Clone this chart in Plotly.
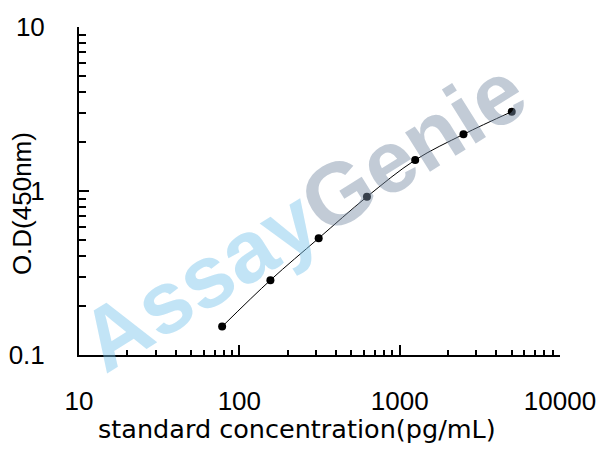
import plotly.graph_objects as go

# standard curve data
concentration = [78.125, 156.25, 312.5, 625, 1250, 2500, 5000]
od_450 = [0.149, 0.286, 0.515, 0.922, 1.545, 2.216, 3.046]

x_tick_vals = [10, 100, 1000, 10000]
x_tick_text = ["10", "100", "1000", "10000"]
y_tick_vals = [0.1, 1, 10]
y_tick_text = ["0.1", "1", "10"]

x_minor = [m * 10 ** e for e in range(1, 4) for m in range(2, 10)]
y_minor = [m * 10 ** e for e in range(-1, 1) for m in range(2, 10)]

fig = go.Figure()

fig.add_trace(
    go.Scatter(
        x=concentration,
        y=od_450,
        mode="lines+markers",
        line=dict(color="black", width=1, shape="spline", smoothing=1.0),
        marker=dict(color="black", size=8),
        showlegend=False,
    )
)

axis_common = dict(
    showgrid=False,
    zeroline=False,
    showline=True,
    linecolor="black",
    linewidth=2,
    ticks="inside",
    ticklen=10,
    tickwidth=1.5,
    tickcolor="black",
    tickfont=dict(family="Arial, Liberation Sans", size=26, color="black"),
    mirror=False,
    automargin=False,
)

fig.update_xaxes(
    type="log",
    range=[1, 4],
    tickmode="array",
    tickvals=x_tick_vals,
    ticktext=x_tick_text,
    ticklabelstandoff=22,
    minor=dict(tickmode="array", tickvals=x_minor, ticks="inside",
               ticklen=5, tickwidth=1.5, tickcolor="black", showgrid=False),
    **axis_common,
)
fig.update_yaxes(
    type="log",
    range=[-1, 1],
    tickmode="array",
    tickvals=y_tick_vals,
    ticktext=y_tick_text,
    ticklabelstandoff=27,
    minor=dict(tickmode="array", tickvals=y_minor, ticks="inside",
               ticklen=7, tickwidth=1.5, tickcolor="black", showgrid=False),
    **axis_common,
)

# page body has an 8px margin, so the figure is sized to fit inside the window
fig.update_layout(
    width=600,
    height=445,
    margin=dict(l=71, r=48, t=19, b=98),
    paper_bgcolor="white",
    plot_bgcolor="white",
    annotations=[
        # watermark
        dict(
            text="<b><span style='color:rgba(120,195,235,0.45)'>Assay</span>"
                 "<span style='color:rgba(120,140,165,0.45)'>Genie</span></b>",
            x=0.465, y=0.425, xref="paper", yref="paper",
            xanchor="center", yanchor="middle",
            showarrow=False, textangle=-32,
            font=dict(family="Arial, Liberation Sans", size=88),
        ),
        dict(
            text="standard concentration(pg/mL)",
            x=0.453, y=-0.225, xref="paper", yref="paper",
            xanchor="center", yanchor="middle",
            showarrow=False,
            font=dict(family="DejaVu Sans", size=25.5, color="black"),
        ),
        dict(
            text="O.D(450nm)",
            x=-0.1185, y=0.46, xref="paper", yref="paper",
            xanchor="center", yanchor="middle",
            showarrow=False, textangle=-90,
            font=dict(family="Arial, Liberation Sans", size=26, color="black"),
        ),
    ],
)

fig.write_html("out.html")
